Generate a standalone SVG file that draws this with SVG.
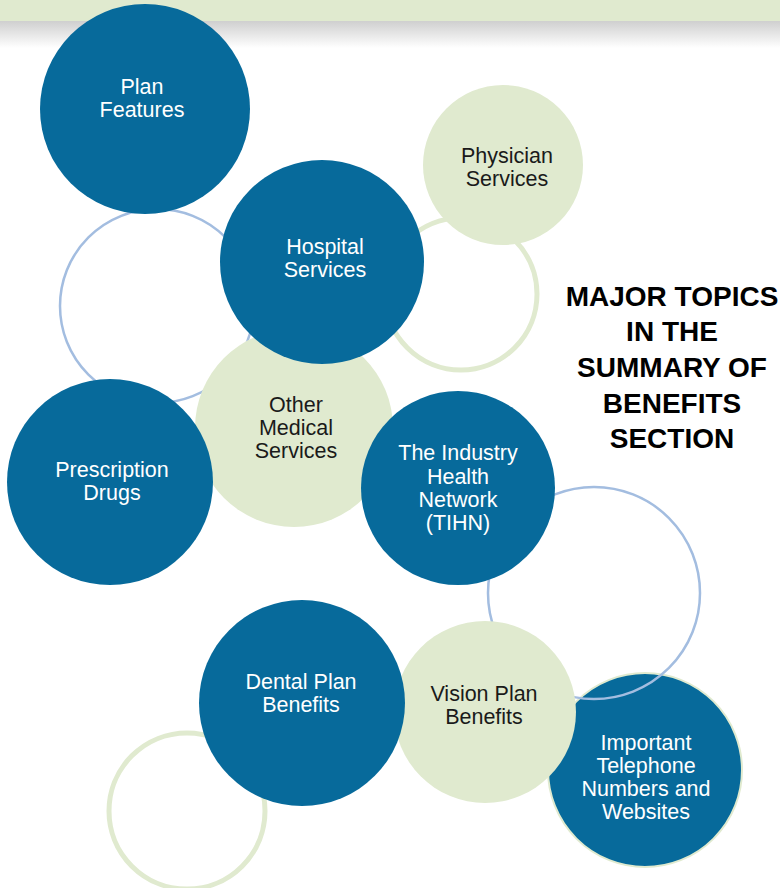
<svg xmlns="http://www.w3.org/2000/svg" width="780" height="888" viewBox="0 0 780 888">
  <defs>
    <linearGradient id="shade" x1="0" y1="0" x2="0" y2="1">
      <stop offset="0" stop-color="#cfcfcf"/>
      <stop offset="1" stop-color="#ffffff"/>
    </linearGradient>
    <style>
      .dark { fill: #076a9b; }
      .light { fill: #e0eacf; }
      .ring-blue { fill: none; stroke: #a3bde0; stroke-width: 2.5; }
      .ring-green { fill: none; stroke: #e0eacf; stroke-width: 5; }
      .lbl { font-family: "Liberation Sans", Arial, sans-serif; font-size: 21.5px; text-anchor: middle; }
      .lbl-w { fill: #ffffff; }
      .lbl-k { fill: #1a1a1a; }
      .title { font-family: "Liberation Sans", Arial, sans-serif; font-size: 28px; font-weight: bold; text-anchor: middle; fill: #000000; }
    </style>
  </defs>

  <rect width="780" height="888" fill="#ffffff"/>

  <!-- header band with soft shadow -->
  <rect x="0" y="21" width="780" height="27" fill="url(#shade)"/>
  <rect x="0" y="0" width="780" height="21" fill="#e0eacf"/>

  <!-- decorative rings -->
  <g id="connectors">
    <circle id="ring-a" class="ring-blue" cx="157" cy="306" r="97"/>
    <circle id="ring-b" class="ring-green" cx="461" cy="294" r="76"/>
    <circle id="ring-d" class="ring-green" cx="187" cy="811" r="78"/>
  </g>

  <g id="plan-features">
    <circle class="dark" cx="145" cy="109" r="105"/>
    <text class="lbl lbl-w" x="142" y="94">Plan</text>
    <text class="lbl lbl-w" x="142" y="117">Features</text>
  </g>

  <g id="physician-services">
    <circle class="light" cx="503" cy="165" r="80"/>
    <text class="lbl lbl-k" x="507" y="163">Physician</text>
    <text class="lbl lbl-k" x="507" y="186">Services</text>
  </g>

  <g id="other-medical-services">
    <circle class="light" cx="294" cy="428" r="99"/>
    <text class="lbl lbl-k" x="296" y="412">Other</text>
    <text class="lbl lbl-k" x="296" y="435">Medical</text>
    <text class="lbl lbl-k" x="296" y="458">Services</text>
  </g>

  <g id="hospital-services">
    <circle class="dark" cx="322" cy="262" r="102"/>
    <text class="lbl lbl-w" x="325" y="254">Hospital</text>
    <text class="lbl lbl-w" x="325" y="277">Services</text>
  </g>

  <g id="prescription-drugs">
    <circle class="dark" cx="110" cy="482" r="103"/>
    <text class="lbl lbl-w" x="112" y="477">Prescription</text>
    <text class="lbl lbl-w" x="112" y="500">Drugs</text>
  </g>

  <g id="important-numbers">
    <circle class="dark" cx="645" cy="770" r="97" stroke="#e0eacf" stroke-width="2"/>
    <text class="lbl lbl-w" x="646" y="750">Important</text>
    <text class="lbl lbl-w" x="646" y="773">Telephone</text>
    <text class="lbl lbl-w" x="646" y="796">Numbers and</text>
    <text class="lbl lbl-w" x="646" y="819">Websites</text>
  </g>

  <g id="ring-c-layer">
    <circle id="ring-c" class="ring-blue" cx="594" cy="593" r="106"/>
  </g>

  <g id="tihn">
    <circle class="dark" cx="458" cy="488" r="97"/>
    <text class="lbl lbl-w" x="458" y="460">The Industry</text>
    <text class="lbl lbl-w" x="458" y="484">Health</text>
    <text class="lbl lbl-w" x="458" y="507">Network</text>
    <text class="lbl lbl-w" x="458" y="530">(TIHN)</text>
  </g>

  <g id="vision-plan">
    <circle class="light" cx="485" cy="712" r="91"/>
    <text class="lbl lbl-k" x="484" y="701">Vision Plan</text>
    <text class="lbl lbl-k" x="484" y="724">Benefits</text>
  </g>

  <g id="dental-plan">
    <circle class="dark" cx="302" cy="703" r="103"/>
    <text class="lbl lbl-w" x="301" y="689">Dental Plan</text>
    <text class="lbl lbl-w" x="301" y="712">Benefits</text>
  </g>

  <g id="heading">
    <text class="title" x="672" y="306">MAJOR TOPICS</text>
    <text class="title" x="672" y="341">IN THE</text>
    <text class="title" x="672" y="377">SUMMARY OF</text>
    <text class="title" x="672" y="413">BENEFITS</text>
    <text class="title" x="672" y="448">SECTION</text>
  </g>
</svg>
